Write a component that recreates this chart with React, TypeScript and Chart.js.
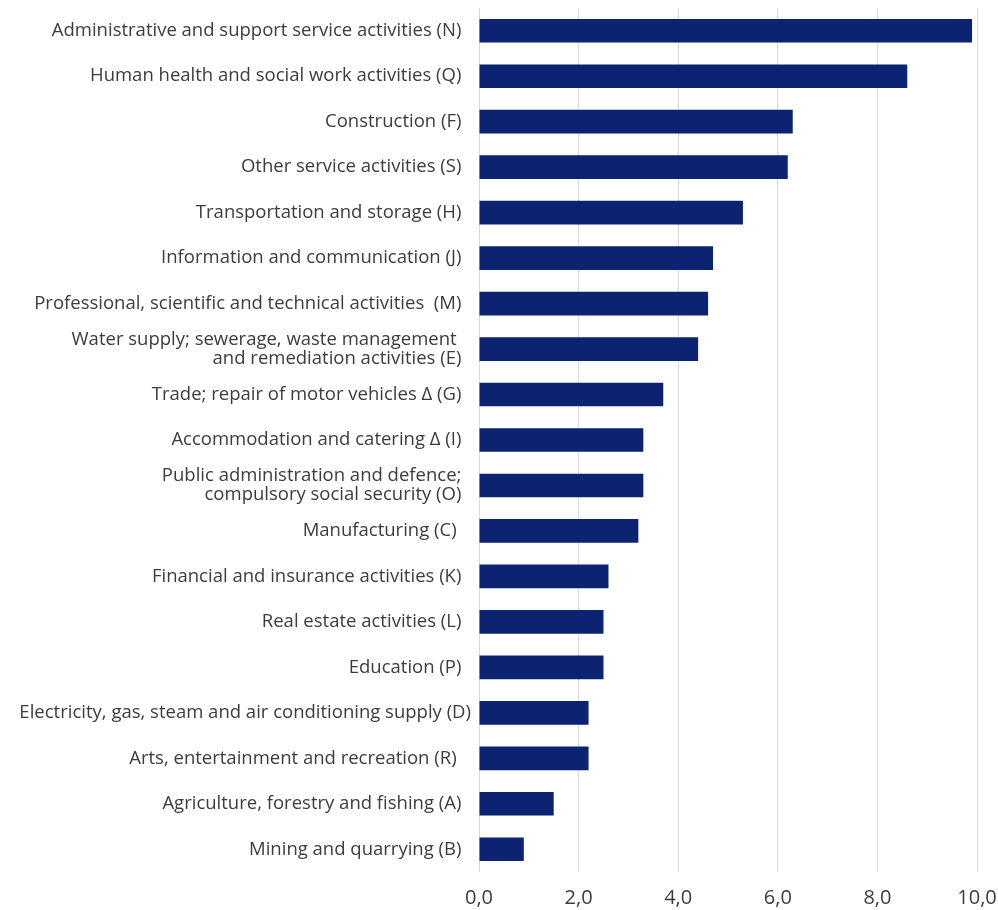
import React, { useEffect, useRef } from "react";
import { Chart, registerables } from "chart.js";

Chart.register(...registerables);

const categories: (string | string[])[] = [
  "Administrative and support service activities (N)",
  "Human health and social work activities (Q)",
  "Construction (F)",
  "Other service activities (S)",
  "Transportation and storage (H)",
  "Information and communication (J)",
  "Professional, scientific and technical activities  (M)",
  ["Water supply; sewerage, waste management ", "and remediation activities (E)"],
  "Trade; repair of motor vehicles Δ (G)",
  "Accommodation and catering Δ (I)",
  ["Public administration and defence;", "compulsory social security (O)"],
  "Manufacturing (C) ",
  "Financial and insurance activities (K)",
  "Real estate activities (L)",
  "Education (P)",
  "Electricity, gas, steam and air conditioning supply (D)",
  "Arts, entertainment and recreation (R) ",
  "Agriculture, forestry and fishing (A)",
  "Mining and quarrying (B)",
];

const values: number[] = [9.9, 8.6, 6.3, 6.2, 5.3, 4.7, 4.6, 4.4, 3.7, 3.3, 3.3, 3.2, 2.6, 2.5, 2.5, 2.2, 2.2, 1.5, 0.9];

const xTicks: number[] = [0, 2, 4, 6, 8, 10];

// the label that sits closest to the axis in the original (no trailing gap)
const flushLabelIndex = 15;

export default function App() {
  const ref = useRef<HTMLCanvasElement | null>(null);
  useEffect(() => {
    if (!ref.current) return;
    const pad = (s: string) => s + "  ";
    const chart = new Chart(ref.current, {
      type: "bar",
      data: {
        labels: categories,
        datasets: [
          {
            data: values,
            backgroundColor: "#0c2372",
            barPercentage: 0.52,
            categoryPercentage: 1,
          },
        ],
      },
      options: {
        indexAxis: "y",
        animation: false,
        responsive: true,
        maintainAspectRatio: false,
        layout: { padding: { top: 8, right: 21, bottom: 0, left: 0 } },
        plugins: { legend: { display: false }, tooltip: { enabled: false } },
        scales: {
          x: {
            min: 0,
            max: 10,
            afterBuildTicks: (scale: any) => {
              scale.ticks = xTicks.map((v) => ({ value: v }));
            },
            afterFit: (scale: any) => {
              scale.height = 38;
              scale.paddingLeft = 0;
              scale.paddingRight = 0;
            },
            grid: { color: "#d9d9d9", lineWidth: 1, drawTicks: false },
            border: { display: false },
            ticks: {
              padding: 14,
              color: "#3c3c3c",
              font: { family: "'Open Sans'", size: 20 },
              callback: (v: any) => Number(v).toFixed(1).replace(".", ","),
            },
          },
          y: {
            afterFit: (scale: any) => {
              scale.width = 479;
              scale.paddingTop = 0;
              scale.paddingBottom = 0;
            },
            grid: { display: false },
            border: { display: false },
            ticks: {
              padding: 0,
              color: "#3c3c3c",
              autoSkip: false,
              font: { family: "'Open Sans'", size: 18.5, lineHeight: 1.05 },
              callback: (_v: any, i: number) => {
                const c = categories[i];
                if (i === flushLabelIndex) return c;
                return Array.isArray(c) ? c.map(pad) : pad(c);
              },
            },
          },
        },
      },
    });
    return () => chart.destroy();
  }, []);
  return (
    <div style={{ position: "absolute", left: 0, top: 0, width: 998, height: 910 }}>
      <canvas ref={ref} />
    </div>
  );
}
